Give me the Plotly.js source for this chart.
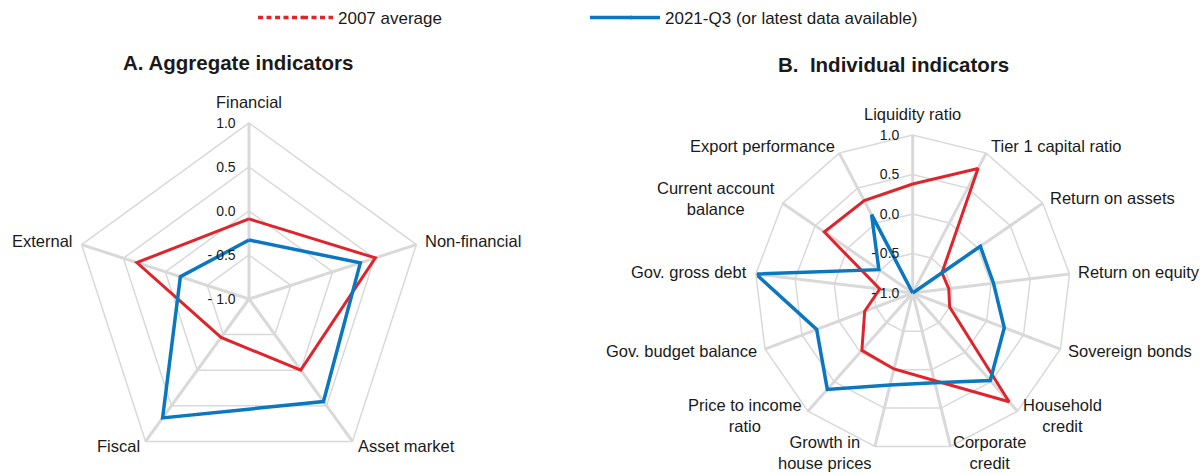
<!DOCTYPE html>
<html>
<head>
<meta charset="utf-8">
<script src="https://cdn.plot.ly/plotly-3.0.1.min.js"></script>
<style>html,body{margin:0;padding:0;background:#fff;overflow:hidden;}#chart{width:1203px;height:475px;}</style>
</head>
<body>
<div id="chart"></div>
<script>
// Panel A: aggregate indicators
const aggCategories = ["Financial", "Non-financial", "Asset market", "Fiscal", "External"];
const agg2007 = [-0.09, 0.51, 0.00, -0.46, 0.34];
const agg2021 = [-0.33, 0.33, 0.44, 0.67, -0.18];

// Panel B: individual indicators
const indCategories = ["Liquidity ratio", "Tier 1 capital ratio", "Return on assets", "Return on equity",
  "Sovereign bonds", "Household<br>credit", "Corporate<br>credit", "Growth in<br>house prices",
  "Price to income<br>ratio", "Gov. budget balance", "Gov. gross debt", "Current account<br>balance",
  "Export performance"];
const ind2007 = [0.38, 0.78, -0.55, -0.54, -0.50, 0.84, 0.14, -0.01, -0.03, -0.35, -0.58, 0.36, 0.32];
const ind2021 = [-1.00, -1.00, 0.04, 0.03, 0.24, 0.48, 0.17, 0.20, 0.63, 0.30, 1.00, -0.48, 0.12];

// Shared
const seriesNames = ["2007 average", "2021-Q3 (or latest data available)"];
const panelTitles = ["<b>A. Aggregate indicators</b>", "<b>B.  Individual indicators</b>"];
const radialTickVals = [-1, -0.5, 0, 0.5, 1];
const radialTickText = ["- 1.0", "- 0.5", "0.0", "0.5", "1.0"];

const RED = "#e1242b";
const BLUE = "#0a77c0";
const GRID = "#d9d9d9";
const TXT = "#1a1a1a";
const FONT = "Liberation Sans, Arial, sans-serif";
const W = 1203, H = 475;

// polar geometry (pixels): centre and radius of each panel
const geomA = {cx: 249, cy: 299, R: 176};
const geomB = {cx: 912.7, cy: 293, R: 158};

function closed(arr) { return arr.concat([arr[0]]); }
function domainOf(g) {
  return {x: [(g.cx - g.R) / W, (g.cx + g.R) / W],
          y: [(H - g.cy - g.R) / H, (H - g.cy + g.R) / H]};
}

const traces = [
  {type: "scatterpolar", subplot: "polar", mode: "lines", r: closed(agg2007), theta: closed(aggCategories),
   line: {color: RED, width: 3}, showlegend: false, name: seriesNames[0]},
  {type: "scatterpolar", subplot: "polar", mode: "lines", r: closed(agg2021), theta: closed(aggCategories),
   line: {color: BLUE, width: 3.5}, showlegend: false, name: seriesNames[1]},
  {type: "scatterpolar", subplot: "polar2", mode: "lines", r: closed(ind2007), theta: closed(indCategories),
   line: {color: RED, width: 3}, showlegend: false, name: seriesNames[0]},
  {type: "scatterpolar", subplot: "polar2", mode: "lines", r: closed(ind2021), theta: closed(indCategories),
   line: {color: BLUE, width: 3.5}, showlegend: false, name: seriesNames[1]},
  // legend entries
  {type: "scatterpolar", subplot: "polar", mode: "lines", r: [null], theta: [null],
   line: {color: RED, width: 3.5, dash: "5px,3.5px"}, name: seriesNames[0], showlegend: true},
  {type: "scatterpolar", subplot: "polar", mode: "lines", r: [null], theta: [null],
   line: {color: BLUE, width: 3.5}, name: seriesNames[1], showlegend: true}
];

function polarCfg(g, cats) {
  const d = domainOf(g);
  return {
    domain: {x: d.x, y: d.y},
    gridshape: "linear",
    bgcolor: "rgba(0,0,0,0)",
    radialaxis: {
      range: [-1, 1], tickmode: "array", tickvals: radialTickVals, ticktext: radialTickText,
      angle: 90, side: "counterclockwise", tickangle: 90,
      showline: false, ticks: "outside", ticklen: 8, tickcolor: "rgba(0,0,0,0)",
      gridcolor: GRID, gridwidth: 1.5,
      tickfont: {family: FONT, size: 14, color: TXT}
    },
    angularaxis: {
      type: "category", categoryarray: cats, rotation: 90, direction: "clockwise",
      showline: true, linecolor: GRID, linewidth: 1.5,
      gridcolor: GRID, gridwidth: 3, ticks: "", showticklabels: false
    }
  };
}

// category labels placed just outside each polygon vertex
function categoryLabels(cats, g, size) {
  const n = cats.length;
  return cats.map(function (c, k) {
    const th = 2 * Math.PI * k / n;
    const s = Math.sin(th), co = Math.cos(th);
    const vx = g.cx + g.R * s, vy = g.cy - g.R * co;
    let x, y, xanchor;
    if (Math.abs(s) < 0.1) {
      xanchor = "center"; x = vx; y = co > 0 ? vy - 21 : vy + 21;
    } else {
      xanchor = s > 0 ? "left" : "right"; x = vx + 7.5 * s; y = vy - 7 * co - 1;
    }
    return {text: c, x: x / W, y: 1 - y / H, xref: "paper", yref: "paper", xanchor: xanchor,
            yanchor: "middle", align: "center", showarrow: false, borderpad: 0,
            font: {family: FONT, size: size, color: TXT}};
  });
}

const titleAnn = [
  {text: panelTitles[0], x: 238 / W, y: 1 - 62 / H},
  {text: panelTitles[1], x: 893 / W, y: 1 - 64 / H}
].map(function (a) {
  return Object.assign(a, {xref: "paper", yref: "paper", xanchor: "center", yanchor: "middle",
    showarrow: false, font: {family: FONT, size: 20.5, color: TXT}});
});

const LEG_Y = 17.5;
const layout = {
  width: W, height: H,
  margin: {l: 0, r: 0, t: 0, b: 0},
  paper_bgcolor: "#ffffff",
  font: {family: FONT, color: TXT},
  showlegend: true,
  legend: {orientation: "h", x: 298 / W, y: 1, xanchor: "left", yanchor: "top",
           entrywidth: 282, font: {family: FONT, size: 17, color: TXT}, bgcolor: "rgba(0,0,0,0)"},
  polar: polarCfg(geomA, aggCategories),
  polar2: polarCfg(geomB, indCategories),
  // legend key lines extended to the reference's length
  shapes: [
    {type: "line", xref: "paper", yref: "paper", x0: 258 / W, x1: 304 / W, y0: 1 - LEG_Y / H, y1: 1 - LEG_Y / H,
     line: {color: RED, width: 3.5, dash: "5px,3.5px"}},
    {type: "line", xref: "paper", yref: "paper", x0: 590 / W, x1: 632 / W, y0: 1 - LEG_Y / H, y1: 1 - LEG_Y / H,
     line: {color: BLUE, width: 3.5}}
  ],
  annotations: titleAnn
    .concat(categoryLabels(aggCategories, geomA, 16.5))
    .concat(categoryLabels(indCategories, geomB, 16.5))
};

Plotly.newPlot("chart", traces, layout, {displayModeBar: false, staticPlot: true});
</script>
</body>
</html>
